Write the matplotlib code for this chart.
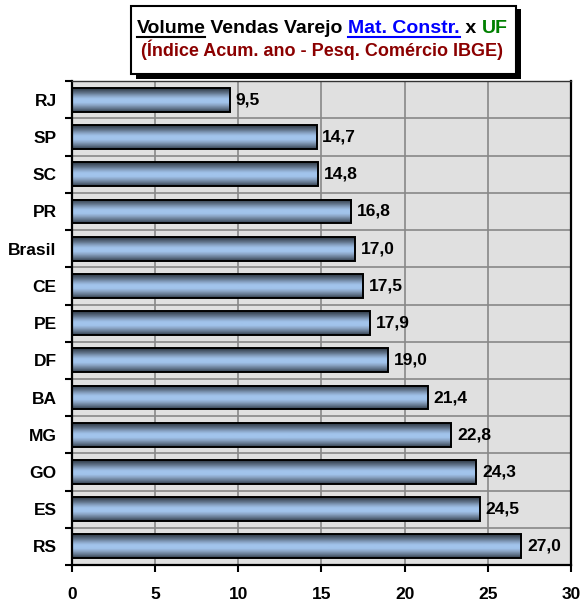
import matplotlib.pyplot as plt
import numpy as np
from matplotlib.colors import LinearSegmentedColormap
from matplotlib.patches import Rectangle

plt.rcParams['font.family'] = 'Liberation Sans'
plt.rcParams['font.weight'] = 'bold'

estados = ['RJ', 'SP', 'SC', 'PR', 'Brasil', 'CE', 'PE', 'DF', 'BA', 'MG', 'GO', 'ES', 'RS']
valores = [9.5, 14.7, 14.8, 16.8, 17.0, 17.5, 17.9, 19.0, 21.4, 22.8, 24.3, 24.5, 27.0]
xticks = [0, 5, 10, 15, 20, 25, 30]

fig = plt.figure(figsize=(5.81, 6.02), dpi=100)
ax = fig.add_axes([0.1239, 0.0615, 0.8589, 0.8035])
ax.set_facecolor('#e0e0e0')

n = len(estados)

# grade
for x in xticks[1:-1]:
    ax.axvline(x, color='#888888', lw=1.2, zorder=1)
for k in range(n - 1):
    ax.axhline(k + 0.5, color='#888888', lw=1.2, zorder=1)

# barras com gradiente (escuro nas bordas, azul claro no meio)
cmap = LinearSegmentedColormap.from_list('barra', [
    (0.0, '#2c3642'), (0.18, '#5c6e84'), (0.35, '#8eaacc'), (0.45, '#a2c4ec'),
    (0.6, '#a2c4ec'), (0.72, '#8aa4c4'), (0.86, '#62758c'), (1.0, '#34404e')])
grad = np.linspace(0, 1, 64).reshape(-1, 1)
h = 0.64
for i, v in enumerate(valores):
    ax.imshow(grad, cmap=cmap, aspect='auto', extent=[0, v, i + h / 2, i - h / 2], zorder=2, interpolation='bilinear')
    ax.add_patch(Rectangle((0, i - h / 2), v, h, fill=False, edgecolor='black', lw=1.4, zorder=3))
    ax.text(v + 0.35, i, f'{v:.1f}'.replace('.', ','), va='center', ha='left', fontsize=12.5, fontweight='bold', zorder=4)

ax.set_xlim(0, 30)
ax.set_ylim(n - 0.5, -0.5)
ax.set_xticks(xticks)
ax.set_yticks(range(n))
ax.set_yticklabels(estados)
ax.set_yticks([k + 0.5 for k in range(-1, n)], minor=True)
ax.tick_params(axis='y', which='major', length=0, pad=11, labelsize=12.5)
ax.tick_params(axis='y', which='minor', length=5, width=1.5)
ax.tick_params(axis='x', length=5, width=1.5, pad=11, labelsize=12.5)
for lab in ax.get_xticklabels() + ax.get_yticklabels():
    lab.set_fontweight('bold')
ax.spines['top'].set_color('#333333')
ax.spines['top'].set_linewidth(1.0)
for s in ['left', 'bottom', 'right']:
    ax.spines[s].set_linewidth(1.6)

# caixa do título com sombra
fig.patches.append(Rectangle((136 / 581, 1 - 79 / 602), 385 / 581, 70 / 602, transform=fig.transFigure,
                             facecolor='black', edgecolor='none', zorder=5))
fig.patches.append(Rectangle((131 / 581, 1 - 74 / 602), 385 / 581, 68 / 602, transform=fig.transFigure,
                             facecolor='white', edgecolor='black', lw=1.5, zorder=6))

partes = [('Volume', 'black', True), (' Vendas Varejo ', 'black', False),
          ('Mat. Constr.', '#0000ff', True), (' x ', 'black', False), ('UF', '#008000', False)]
fig.canvas.draw()
r = fig.canvas.get_renderer()
objs = []
for txt, cor, sub in partes:
    t = fig.text(0, 1 - 33 / 602, txt, color=cor, fontsize=14, fontweight='bold', va='baseline', zorder=7)
    objs.append((t, sub))
larg = sum(t.get_window_extent(r).width for t, _ in objs)
x0 = 322 - larg / 2
for t, sub in objs:
    w = t.get_window_extent(r).width
    t.set_x(x0 / 581)
    if sub:
        fig.add_artist(plt.Line2D([x0 / 581, (x0 + w) / 581], [1 - 37 / 602, 1 - 37 / 602],
                                  transform=fig.transFigure, color=t.get_color(), lw=1.5, zorder=7))
    x0 += w
fig.text(322 / 581, 1 - 50 / 602, '(Índice Acum. ano - Pesq. Comércio IBGE)', color='#8b0000',
         fontsize=13, fontweight='bold', ha='center', va='center', zorder=7)

fig.savefig('out.png', dpi=100)
